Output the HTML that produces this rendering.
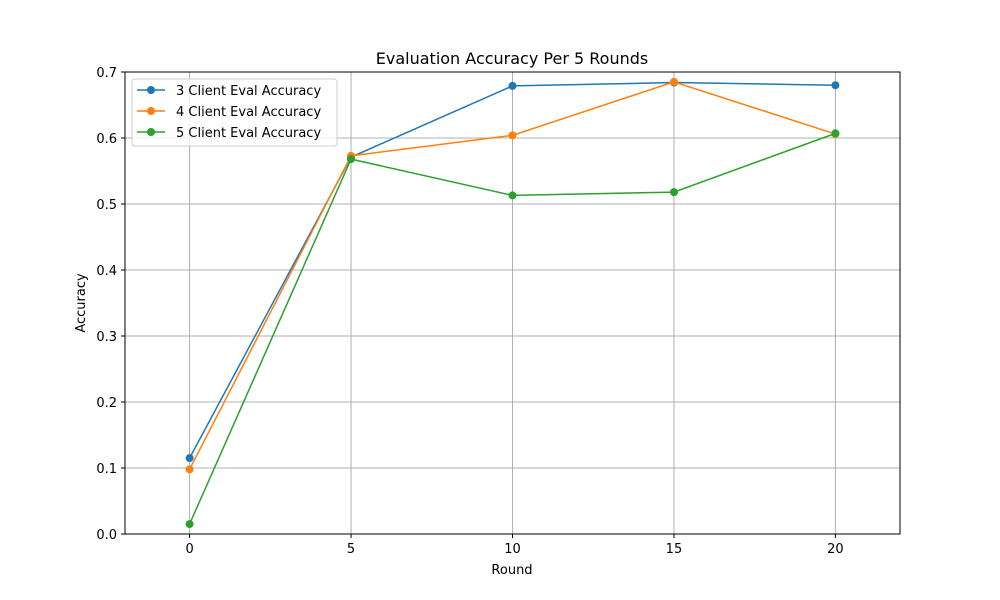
<!DOCTYPE html>
<html><head><meta charset="utf-8"><style>
body{margin:0;background:#fff;}
svg{display:block;font-family:"DejaVu Sans","Liberation Sans",sans-serif;}
</style></head><body>
<svg id="chart" width="1000" height="600" viewBox="0 0 1000 600">
<rect width="1000" height="600" fill="#fff"/>
<g id="grid"></g>
<g id="ticks"></g>
<g id="series"></g>
<rect x="125" y="72" width="775" height="462" fill="none" stroke="#000" stroke-width="1"/>
<text x="512" y="64" text-anchor="middle" font-size="16">Evaluation Accuracy Per 5 Rounds</text>
<text x="512" y="574" text-anchor="middle" font-size="13">Round</text>
<text x="0" y="0" transform="translate(85,303) rotate(-90)" text-anchor="middle" font-size="13">Accuracy</text>
<g id="legend">
<rect x="132" y="79" width="205" height="67" rx="3" fill="#fff" fill-opacity="0.8" stroke="#ccc"/>
</g>
</svg>
<script>
const rounds = [0, 5, 10, 15, 20];
const client3 = [0.115, 0.571, 0.679, 0.684, 0.680];
const client4 = [0.098, 0.573, 0.604, 0.685, 0.606];
const client5 = [0.015, 0.568, 0.513, 0.518, 0.607];
const seriesNames = ["3 Client Eval Accuracy", "4 Client Eval Accuracy", "5 Client Eval Accuracy"];
const xTicks = [0, 5, 10, 15, 20];
const yTicks = [0, 0.1, 0.2, 0.3, 0.4, 0.5, 0.6, 0.7];

const NS = "http://www.w3.org/2000/svg";
function xs(v){ return 125 + (v + 2) / 24 * 775; }
function ys(v){ return 534 - v / 0.7 * 462; }
function mk(tag, attrs, parent){ const e = document.createElementNS(NS, tag); for (const k in attrs) e.setAttribute(k, attrs[k]); parent.appendChild(e); return e; }
const grid = document.getElementById('grid'), ticks = document.getElementById('ticks'), ser = document.getElementById('series'), leg = document.getElementById('legend');

xTicks.forEach(t => {
  const x = xs(t);
  const g = mk('line', {x1:x, x2:x, y1:72, y2:534, stroke:'#b0b0b0', 'stroke-width':1}, grid);
  
  
  mk('line', {x1:x, x2:x, y1:534, y2:538, stroke:'#000'}, ticks);
  const l = mk('text', {x:x, y:553, 'text-anchor':'middle', 'font-size':13}, ticks);
  l.textContent = t;
  
  
});
yTicks.forEach(t => {
  const y = ys(t);
  const g = mk('line', {x1:125, x2:900, y1:y, y2:y, stroke:'#b0b0b0', 'stroke-width':1}, grid);
  
  
  mk('line', {x1:121, x2:125, y1:y, y2:y, stroke:'#000'}, ticks);
  const l = mk('text', {x:117, y:y + 5, 'text-anchor':'end', 'font-size':13}, ticks);
  l.textContent = t.toFixed(1);
  
  
});

const colors = ['#1f77b4', '#ff7f0e', '#2ca02c'];
[client3, client4, client5].forEach((vals, i) => {
  const pts = rounds.map((r, j) => xs(r) + ',' + ys(vals[j])).join(' ');
  const pl = mk('polyline', {points:pts, fill:'none', stroke:colors[i], 'stroke-width':1.5}, ser);
  
  
  rounds.forEach((r, j) => {
    const c = mk('circle', {cx:xs(r), cy:ys(vals[j]), r:4, fill:colors[i]}, ser);
    
    
  });
  const ly = 90 + i * 21;
  mk('line', {x1:137, x2:165, y1:ly, y2:ly, stroke:colors[i], 'stroke-width':1.5}, leg);
  mk('circle', {cx:151, cy:ly, r:4, fill:colors[i]}, leg);
  const t = mk('text', {x:176, y:ly + 5, 'font-size':13}, leg);
  t.textContent = seriesNames[i];
  
  
});
</script>
</body></html>
